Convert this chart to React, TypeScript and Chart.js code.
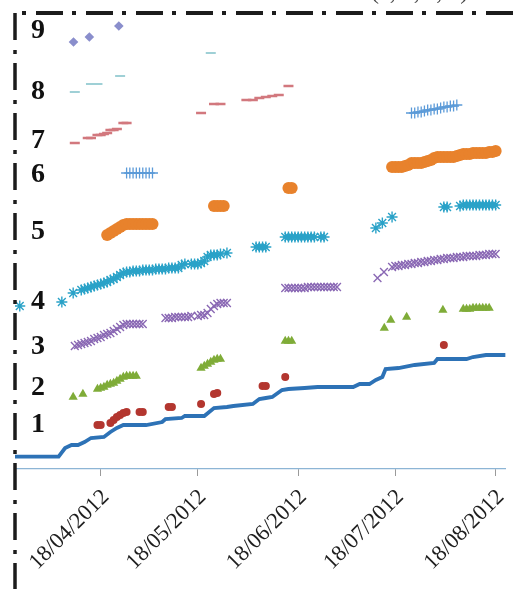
import { useEffect, useRef } from "react";
import { Chart, registerables } from "chart.js";

Chart.register(...registerables);

// x axis: days counted from 18/04/2012
const tickDays = [0, 30, 61, 91, 122];
const tickLabels = ["18/04/2012", "18/05/2012", "18/06/2012", "18/07/2012", "18/08/2012"];

// row labels shown on the left
const rowTickValues = [4.4, 8.1, 12.2, 16.7, 23.7, 29.4, 32.8, 37.7, 43.8];
const rowTickLabels = ["1", "2", "3", "4", "5", "6", "7", "8", "9"];

// [day, value]
const cumulative: [number, number][] = [
  [-26.5, 1.23], [-13, 1.23], [-11, 2.1], [-9, 2.4], [-7, 2.4], [-5, 2.7], [-3, 3.1], [1, 3.2],
  [3, 3.7], [5, 4.1], [7, 4.4], [14, 4.4], [19, 4.7], [20, 5.0], [25, 5.1], [26, 5.3], [32, 5.3],
  [35, 6.1], [39, 6.2], [41, 6.3], [47, 6.5], [49, 7.0], [51, 7.1], [53, 7.2], [56, 7.9], [58, 8.0],
  [63, 8.1], [67, 8.2], [78, 8.2], [80, 8.5], [83, 8.5], [85, 8.9], [87, 9.2], [88, 10.0], [92, 10.1],
  [97, 10.4], [103, 10.6], [104, 11.0], [113, 11.0], [115, 11.2], [119, 11.4], [125.1, 11.4],
];

const seriesRed: [number, number][] = [
  [-1, 4.4], [0, 4.4], [3, 4.6], [4, 4.9], [5, 5.2], [6, 5.4], [7, 5.6], [8, 5.7], [12, 5.7], [13, 5.7],
  [21, 6.2], [22, 6.2], [31, 6.5], [35, 7.5], [36, 7.6], [50, 8.3], [51, 8.3], [57, 9.2], [106, 12.4],
];

const seriesGreen: [number, number][] = [
  [-8.5, 7.2], [-5.5, 7.5], [-1, 8.0], [0, 8.1], [1, 8.2], [2, 8.4], [3, 8.5], [4, 8.6], [5, 8.8],
  [6, 9.0], [7, 9.2], [8, 9.3], [9, 9.3], [10, 9.3], [11, 9.3],
  [31, 10.1], [32, 10.3], [33, 10.5], [34, 10.7], [35, 10.9], [36, 11.0], [37, 11.0],
  [57, 12.8], [58, 12.8], [59, 12.8],
  [87.6, 14.1], [89.6, 14.9], [94.5, 15.2], [105.7, 15.9],
  [112, 16.0], [113, 16.0], [114, 16.0], [115, 16.1], [116, 16.1], [117, 16.1], [118, 16.1], [119, 16.1], [120, 16.1],
];

const seriesPurple: [number, number][] = [
  [-8, 12.3], [-7, 12.4], [-6, 12.5], [-5, 12.6], [-4, 12.7], [-3, 12.8], [-2, 13.0], [-1, 13.1],
  [0, 13.2], [1, 13.4], [2, 13.5], [3, 13.6], [4, 13.8], [5, 14.0], [6, 14.2], [7, 14.4], [8, 14.5],
  [9, 14.5], [10, 14.5], [11, 14.5], [12, 14.5], [13, 14.5],
  [20, 15.1], [21, 15.1], [22, 15.1], [23, 15.2], [24, 15.2], [25, 15.2], [26, 15.2], [27, 15.2],
  [28, 15.3], [30, 15.3], [31, 15.4], [32, 15.4], [33, 15.6], [34, 16.0], [35, 16.3], [36, 16.5],
  [37, 16.6], [38, 16.6], [39, 16.6],
  [57, 18.1], [58, 18.1], [59, 18.1], [60, 18.1], [61, 18.1], [62, 18.1], [63, 18.1], [64, 18.2],
  [65, 18.2], [66, 18.2], [67, 18.2], [68, 18.2], [69, 18.2], [70, 18.2], [71, 18.2], [72, 18.2], [73, 18.2],
  [85.5, 19.1], [87.5, 19.7],
  [90, 20.2], [91, 20.3], [92, 20.3], [93, 20.4], [94, 20.4], [95, 20.5], [96, 20.5], [97, 20.6],
  [98, 20.6], [99, 20.7], [100, 20.7], [101, 20.8], [102, 20.8], [103, 20.9], [104, 20.9], [105, 21.0],
  [106, 21.0], [107, 21.1], [108, 21.1], [109, 21.1], [110, 21.2], [111, 21.2], [112, 21.2], [113, 21.3],
  [114, 21.3], [115, 21.3], [116, 21.3], [117, 21.4], [118, 21.4], [119, 21.4], [120, 21.5], [121, 21.5], [122, 21.5],
];

const seriesCyan: [number, number][] = [
  [-25, 16.3], [-12, 16.7], [-8.5, 17.6], [-6, 17.9], [-5, 18.0], [-4, 18.1], [-3, 18.2], [-2, 18.3],
  [-1, 18.4], [0, 18.5], [1, 18.6], [2, 18.7], [3, 18.9], [4, 19.0], [5, 19.2], [6, 19.4], [7, 19.6],
  [8, 19.7], [9, 19.7], [10, 19.8], [11, 19.8], [12, 19.8], [13, 19.9], [14, 19.9], [15, 19.9], [16, 19.9],
  [17, 20.0], [18, 20.0], [19, 20.0], [20, 20.0], [21, 20.1], [22, 20.1], [23, 20.1], [24, 20.1],
  [25, 20.4], [26, 20.5], [28, 20.5], [29, 20.5], [30, 20.5], [31, 20.6], [32, 20.8], [33, 21.2],
  [34, 21.4], [35, 21.4], [36, 21.4], [37, 21.5], [39, 21.6],
  [48, 22.2], [49, 22.2], [50, 22.2], [51, 22.2],
  [57, 23.2], [58, 23.2], [59, 23.2], [60, 23.2], [61, 23.2], [62, 23.2], [63, 23.2], [64, 23.2],
  [65, 23.2], [66, 23.2], [68, 23.2], [69, 23.2],
  [85, 24.1], [87, 24.6], [90, 25.2],
  [106, 26.2], [107, 26.2], [111, 26.3], [112, 26.4], [113, 26.4], [114, 26.4], [115, 26.4], [116, 26.4],
  [117, 26.4], [118, 26.4], [119, 26.4], [120, 26.4], [121, 26.4], [122, 26.4],
];

const seriesOrange: [number, number][] = [
  [2, 23.4], [3, 23.6], [4, 23.8], [5, 24.0], [6, 24.2], [7, 24.4], [8, 24.5], [9, 24.5], [10, 24.5],
  [11, 24.5], [12, 24.5], [13, 24.5], [14, 24.5], [15, 24.5], [16, 24.5],
  [35, 26.3], [36, 26.3], [37, 26.3], [38, 26.3],
  [58, 28.1], [59, 28.1],
  [90, 30.2], [91, 30.2], [92, 30.2], [93, 30.2], [94, 30.3], [95, 30.4], [96, 30.6], [97, 30.6],
  [98, 30.6], [99, 30.6], [100, 30.7], [101, 30.8], [102, 30.9], [103, 31.1], [104, 31.2], [105, 31.2],
  [106, 31.2], [107, 31.2], [108, 31.2], [109, 31.2], [110, 31.3], [111, 31.4], [112, 31.5], [113, 31.5],
  [114, 31.5], [115, 31.6], [116, 31.6], [117, 31.6], [118, 31.6], [119, 31.6], [120, 31.7], [121, 31.7], [122, 31.8],
];

const seriesPlus: [number, number][] = [
  [8, 29.6], [9, 29.6], [10, 29.6], [11, 29.6], [12, 29.6], [13, 29.6], [14, 29.6], [15, 29.6], [16, 29.6],
  [96, 35.6], [97, 35.6], [98, 35.7], [99, 35.7], [100, 35.8], [101, 35.9], [102, 35.9], [103, 36.0],
  [104, 36.0], [105, 36.1], [106, 36.2], [107, 36.2], [108, 36.3], [109, 36.3], [110, 36.4],
];

const seriesPink: [number, number][] = [
  [-8, 32.6], [-4, 33.1], [-3, 33.1], [-1, 33.4], [0, 33.4], [1, 33.5], [2, 33.6], [3, 33.9], [4, 33.9],
  [5, 34.0], [7, 34.6], [8, 34.6], [31, 35.6], [35, 36.5], [37, 36.5], [45, 36.9], [47, 36.9],
  [49, 37.1], [51, 37.2], [53, 37.3], [55, 37.4], [58, 38.3],
];

const seriesTeal: [number, number][] = [
  [-8, 37.7], [-3, 38.5], [-1, 38.5], [6, 39.3], [34, 41.6],
];

const seriesDiamond: [number, number][] = [
  [-8.4, 42.7], [-3.5, 43.2], [5.6, 44.3],
];

const toXY = (arr: [number, number][]) => arr.map(([x, y]) => ({ x, y }));

const dashDotPlugin = {
  id: "dashDotFrame",
  afterDraw(chart: any) {
    const ctx = chart.ctx;
    ctx.save();
    ctx.strokeStyle = "#1c1c1c";
    ctx.lineCap = "butt";
    // left frame line
    ctx.lineWidth = 3.5;
    ctx.setLineDash([27, 10, 4, 9]);
    ctx.beginPath();
    ctx.moveTo(15, 13);
    ctx.lineTo(15, chart.height);
    ctx.stroke();
    // top frame line
    ctx.lineWidth = 4;
    ctx.setLineDash([4, 10, 27, 9]);
    ctx.beginPath();
    ctx.moveTo(22, 13);
    ctx.lineTo(chart.width, 13);
    ctx.stroke();
    ctx.restore();
  },
};

export default function App() {
  const ref = useRef<HTMLCanvasElement | null>(null);

  useEffect(() => {
    if (!ref.current) return;
    const mk = (data: [number, number][], style: string, color: string, radius: number, bw: number, filled: boolean) => ({
      data: toXY(data),
      showLine: false,
      pointStyle: style,
      pointRadius: radius,
      pointHoverRadius: radius,
      pointBorderWidth: bw,
      borderColor: color,
      backgroundColor: filled ? color : "transparent",
      pointBackgroundColor: filled ? color : "transparent",
      pointBorderColor: color,
    });
    const chart = new Chart(ref.current, {
      type: "scatter",
      data: {
        datasets: [
          {
            data: toXY(cumulative),
            showLine: true,
            borderColor: "#2d72b6",
            borderWidth: 3.8,
            pointRadius: 0,
            tension: 0,
          } as any,
          mk(seriesRed, "circle", "#b3362f", 4, 0, true),
          mk(seriesGreen, "triangle", "#7fac38", 5.3, 0, true),
          mk(seriesPurple, "crossRot", "#8a68b4", 5.5, 1.4, false),
          mk(seriesCyan, "star", "#2aa2c8", 5.5, 1.4, false),
          mk(seriesOrange, "circle", "#e8822c", 6, 0, true),
          mk(seriesPlus, "cross", "#5b9ad8", 5.5, 1.3, false),
          mk(seriesPink, "line", "#d2787e", 5, 2.5, false),
          mk(seriesTeal, "line", "#9fd0d6", 5, 2, false),
          mk(seriesDiamond, "rectRot", "#8a8ecc", 4.8, 0, true),
        ],
      },
      options: {
        animation: false,
        responsive: false,
        events: [],
        layout: { padding: { top: 12, left: 0, right: 0, bottom: 0 } },
        plugins: { legend: { display: false }, tooltip: { enabled: false }, title: { display: false } },
        scales: {
          x: {
            type: "linear",
            min: -26.47,
            max: 125.04,
            afterBuildTicks: (scale: any) => {
              scale.ticks = tickDays.map((v) => ({ value: v }));
            },
            afterFit: (scale: any) => {
              scale.height = 120;
              scale.paddingLeft = 0;
              scale.paddingRight = 0;
            },
            grid: {
              display: true,
              drawOnChartArea: false,
              drawTicks: true,
              tickLength: 7,
              color: "#9a9a9a",
            },
            border: { display: true, color: "#8db5d5", width: 1.2 },
            ticks: {
              autoSkip: false,
              minRotation: 45,
              maxRotation: 45,
              padding: 8,
              labelOffset: 5,
              color: "#1e1e1e",
              font: { family: "'Liberation Serif', 'Times New Roman', serif", size: 22.5 },
              callback: (_v: any, i: number) => tickLabels[i],
            },
          },
          y: {
            type: "linear",
            min: 0,
            max: 45.7,
            afterBuildTicks: (scale: any) => {
              scale.ticks = rowTickValues.map((v) => ({ value: v }));
            },
            afterFit: (scale: any) => {
              scale.width = 15;
              scale.paddingTop = 0;
              scale.paddingBottom = 0;
            },
            grid: { display: false, drawTicks: false },
            border: { display: false },
            ticks: {
              autoSkip: false,
              mirror: true,
              padding: 16,
              color: "#111111",
              font: { family: "'Liberation Serif', 'Times New Roman', serif", size: 28, weight: "bold" },
              callback: (_v: any, i: number) => rowTickLabels[i],
            },
          },
        },
      } as any,
      plugins: [dashDotPlugin],
    });
    return () => chart.destroy();
  }, []);

  return (
    <div style={{ position: "fixed", left: 0, top: 0, width: 513, height: 589, background: "#ffffff", overflow: "hidden" }}>
      <canvas ref={ref} width={513} height={589} style={{ display: "block" }} />
      <span
        style={{
          position: "absolute",
          left: 371,
          top: -21,
          fontFamily: "'Liberation Serif', 'Times New Roman', serif",
          fontSize: 24,
          lineHeight: "24px",
          color: "#444",
          whiteSpace: "nowrap",
        }}
      >
        (a, b, c, d)
      </span>
    </div>
  );
}
